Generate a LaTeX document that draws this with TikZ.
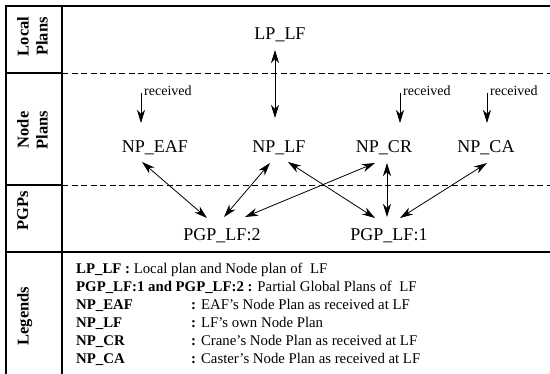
\documentclass[tikz,border=0pt]{standalone}
\usepackage{fontspec}
\setmainfont{Liberation Serif}
\usepackage{tikz}
\usetikzlibrary{arrows.meta,calc}

\tikzset{
    plan/.style={font=\fontsize{18}{20}\selectfont,inner sep=0pt,text height=12pt,text depth=0pt},
    rowlabel/.style={font=\fontsize{16.5}{19}\selectfont\bfseries,rotate=90,anchor=north,align=center,inner sep=0pt},
    legend/.style={font=\fontsize{14.8}{17}\selectfont,anchor=base west,inner sep=0pt},
    link/.style={{Stealth[length=13pt,width=8pt,inset=4pt]}-{Stealth[length=13pt,width=8pt,inset=4pt]},line width=0.8pt},
    recv/.style={-{Stealth[length=13pt,width=8pt,inset=4pt]},line width=0.8pt},
    frame/.style={line width=1.1pt},
    split/.style={line width=0.8pt,dash pattern=on 6pt off 3.5pt}
}

\begin{document}
\begin{tikzpicture}[x=1pt,y=-1pt]
    \useasboundingbox (0,0) rectangle (550,374);

    % Frame and rows
    \draw[frame] (550,6) -- (6,6) -- (6,374);
    \draw[frame] (62,6) -- (62,374);
    \draw[frame] (6,73) -- (62,73);
    \draw[frame] (6,185) -- (62,185);
    \draw[frame] (6,252) -- (550,252);
    \draw[split] (62,73) -- (550,73);
    \draw[split] (62,185) -- (550,185);

    % Row labels
    \node[rowlabel] (local) at (17,36.5) {Local\\Plans};
    \node[rowlabel] (node) at (17,130) {Node\\Plans};
    \node[rowlabel] (pgps) at (17,211) {PGPs};
    \node[rowlabel] (legends) at (17,316) {Legends};

    % Plans
    \node[plan] (lplf) at (280,34) {LP\_LF};
    \node[plan] (npeaf) at (155,147) {NP\_EAF};
    \node[plan] (nplf) at (279,147) {NP\_LF};
    \node[plan] (npcr) at (384,147) {NP\_CR};
    \node[plan] (npca) at (486,147) {NP\_CA};
    \node[plan] (pgptwo) at (222,235) {PGP\_LF:2};
    \node[plan] (pgpone) at (389,235) {PGP\_LF:1};

    % Received plans
    \coordinate (rcveaf) at (141,93);
    \coordinate (rcvcr) at (400,93);
    \coordinate (rcvca) at (487,93);
    \node[legend,font=\fontsize{14}{16}\selectfont] (txteaf) at ($(rcveaf)+(3,3)$) {received};
    \node[legend,font=\fontsize{14}{16}\selectfont] (txtcr) at ($(rcvcr)+(3,3)$) {received};
    \node[legend,font=\fontsize{14}{16}\selectfont] (txtca) at ($(rcvca)+(3,3)$) {received};
    \draw[recv] (rcveaf) -- ($(npeaf)+(-14,-24)$);
    \draw[recv] (rcvcr) -- ($(npcr)+(16,-24)$);
    \draw[recv] (rcvca) -- ($(npca)+(1,-24)$);

    % Arrows
    \draw[link] ($(lplf)+(-5,16)$) -- ($(nplf)+(-4,-29)$);
    \draw[link] ($(npeaf)+(-13,15)$) -- ($(pgptwo)+(-15,-17)$);
    \draw[link] ($(nplf)+(-9,16)$) -- ($(pgptwo)+(2,-18)$);
    \draw[link] ($(npcr)+(-9,16)$) -- ($(pgptwo)+(23,-18)$);
    \draw[link] ($(nplf)+(9,15)$) -- ($(pgpone)+(-14,-17)$);
    \draw[link] ($(npcr)+(3,16)$) -- ($(pgpone)+(-2,-18)$);
    \draw[link] ($(npca)+(1,16)$) -- ($(pgpone)+(11,-17)$);

    % Legends
    \node[legend] (lgone) at (76,274) {\textbf{LP\_LF :} Local plan and Node plan of \ LF};
    \node[legend] (lgtwo) at (76,292) {\textbf{PGP\_LF:1 and PGP\_LF:2 :} Partial Global Plans of \ LF};
    \node[legend] (keyeaf) at (76,310) {\textbf{NP\_EAF}};
    \node[legend] (keylf) at (76,328) {\textbf{NP\_LF}};
    \node[legend] (keycr) at (76,346) {\textbf{NP\_CR}};
    \node[legend] (keyca) at (76,364) {\textbf{NP\_CA}};
    \node[legend] (defeaf) at (191,310) {\textbf{:} EAF's Node Plan as received at LF};
    \node[legend] (deflf) at (191,328) {\textbf{:} LF's own Node Plan};
    \node[legend] (defcr) at (191,346) {\textbf{:} Crane's Node Plan as received at LF};
    \node[legend] (defca) at (191,364) {\textbf{:} Caster's Node Plan as received at LF};
\end{tikzpicture}
\end{document}
